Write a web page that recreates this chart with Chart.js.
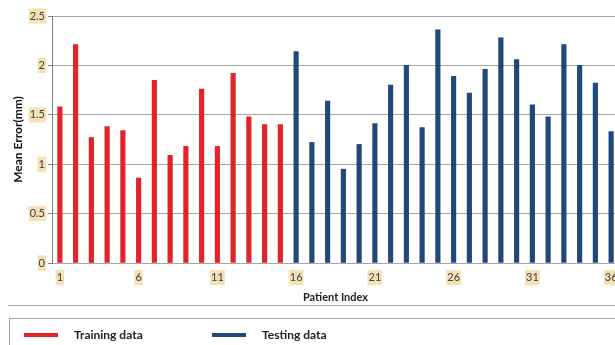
<!DOCTYPE html>
<html>
<head>
<meta charset="utf-8">
<script src="https://cdn.jsdelivr.net/npm/chart.js@4.4.1/dist/chart.umd.min.js"></script>
<style>
  html, body { margin: 0; padding: 0; background: #fff; overflow: hidden; width: 615px; height: 345px; }
  #wrap { position: absolute; left: 0; top: 0; width: 640px; height: 310px; }
  #sep { position: absolute; left: 8px; top: 305px; width: 620px; height: 0; border-top: 1px solid #a6a6a6; }
  #legend { position: absolute; left: 9px; top: 318px; width: 640px; height: 60px; border: 1px solid #a6a6a6; box-sizing: border-box; font-family: Lato, 'Open Sans', sans-serif; font-weight: bold; font-size: 12px; color: #222; }
  .item { position: absolute; top: 8px; height: 16px; line-height: 16px; }
  .swatch { position: absolute; top: 6px; width: 34px; height: 4px; }
  .txt { position: absolute; left: 50px; top: 0; white-space: nowrap; }
</style>
</head>
<body>
<div id="wrap"><canvas id="c"></canvas></div>
<div id="sep"></div>
<div id="legend"></div>
<script>
const categories = Array.from({length: 36}, (_, i) => String(i + 1));
const trainingValues = [1.58, 2.21, 1.27, 1.38, 1.34, 0.86, 1.85, 1.09, 1.18, 1.76, 1.18, 1.92, 1.48, 1.40, 1.40];
const testingValues = [2.14, 1.22, 1.64, 0.95, 1.20, 1.41, 1.80, 2.00, 1.37, 2.36, 1.89, 1.72, 1.96, 2.28, 2.06, 1.60, 1.48, 2.21, 2.00, 1.82, 1.33];
const yTicks = [0, 0.5, 1, 1.5, 2, 2.5];
const seriesNames = ['Training data', 'Testing data'];
const seriesColors = ['#e3222c', '#1f497d'];

const nTrain = trainingValues.length;
const trainData = categories.map((_, i) => i < nTrain ? trainingValues[i] : null);
const testData = categories.map((_, i) => i >= nTrain ? testingValues[i - nTrain] : null);

const tickFont = { family: 'Lato, "Open Sans", sans-serif', size: 11 };
const tickBackdrop = '#f4e1b4';

new Chart(document.getElementById('c'), {
  type: 'bar',
  data: {
    labels: categories,
    datasets: [
      { label: seriesNames[0], data: trainData, backgroundColor: seriesColors[0], barThickness: 4.5, grouped: false },
      { label: seriesNames[1], data: testData, backgroundColor: seriesColors[1], barThickness: 4.5, grouped: false }
    ]
  },
  options: {
    responsive: true,
    maintainAspectRatio: false,
    animation: false,
    layout: { padding: { top: 16, right: 21, bottom: 0, left: 0 } },
    plugins: { legend: { display: false }, tooltip: { enabled: false } },
    scales: {
      x: {
        type: 'category',
        offset: true,
        grid: { display: false },
        border: { display: true, color: '#a6a6a6' },
        ticks: {
          autoSkip: false,
          maxRotation: 0,
          padding: 0,
          color: '#404040',
          font: tickFont,
          showLabelBackdrop: true,
          backdropColor: tickBackdrop,
          backdropPadding: { x: 1, y: 1 },
          callback: function(v, i) { return i % 5 === 0 ? categories[i] : null; }
        },
        title: {
          display: true, text: 'Patient Index', color: '#222',
          font: { family: 'Lato, "Open Sans", sans-serif', size: 11, weight: 'bold' },
          padding: { top: 0, bottom: 6 }
        },
        afterFit: function(s) { s.height = 47; }
      },
      y: {
        min: 0, max: 2.5,
        afterBuildTicks: function(s) { s.ticks = yTicks.map(v => ({ value: v })); },
        grid: { color: '#a6a6a6', lineWidth: 1, drawTicks: true, tickLength: 4, tickColor: '#7f7f7f' },
        border: { display: true, color: '#7f7f7f', width: 1 },
        ticks: {
          padding: 3,
          color: '#404040',
          font: tickFont,
          showLabelBackdrop: true,
          backdropColor: tickBackdrop,
          backdropPadding: { x: 1, y: 1 },
          callback: function(v) { return String(v); }
        },
        title: {
          display: true, text: 'Mean Error(mm)', color: '#111',
          font: { family: 'Lato, "Open Sans", sans-serif', size: 12, weight: 'bold' },
          padding: { top: 11, bottom: 0 }
        },
        afterFit: function(s) { s.width = 52; }
      }
    }
  }
});

const legend = document.getElementById('legend');
const itemLefts = [14, 202];
seriesNames.forEach((name, i) => {
  const it = document.createElement('div');
  it.className = 'item';
  it.style.left = itemLefts[i] + 'px';
  const sw = document.createElement('div');
  sw.className = 'swatch';
  sw.style.background = seriesColors[i];
  const tx = document.createElement('span');
  tx.className = 'txt';
  tx.textContent = name;
  it.appendChild(sw);
  it.appendChild(tx);
  legend.appendChild(it);
});
</script>
</body>
</html>
